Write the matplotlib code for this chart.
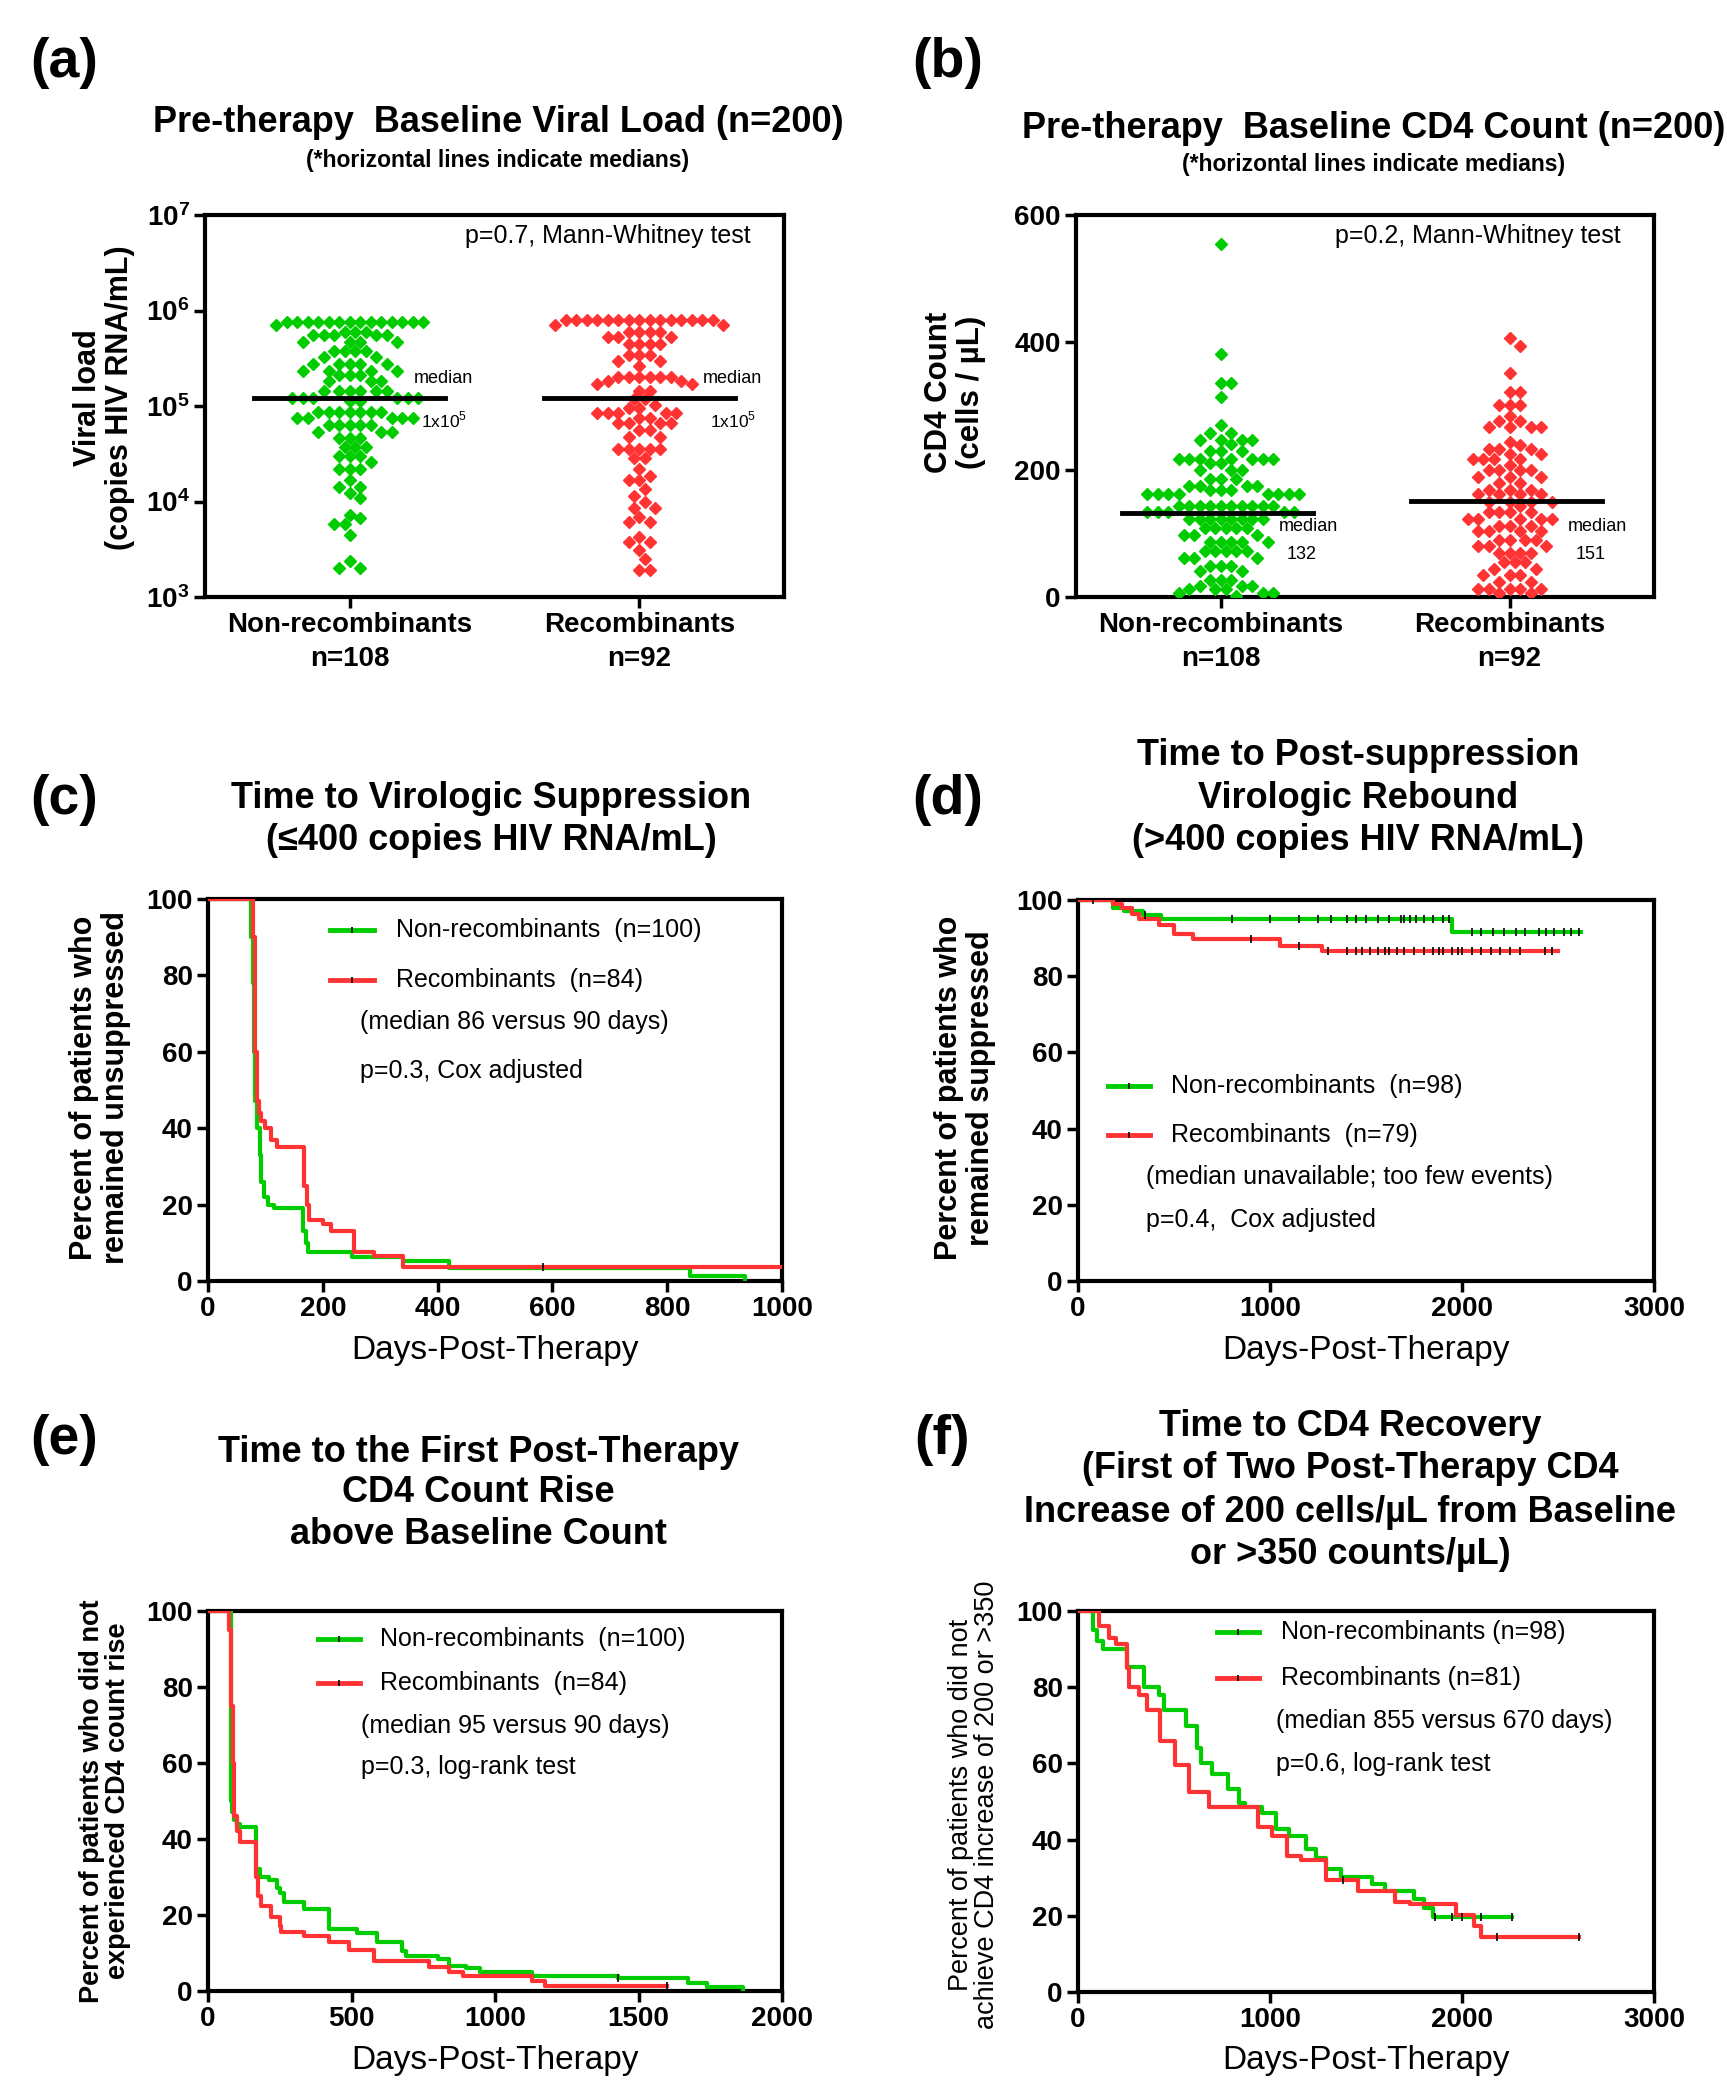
import numpy as np
import matplotlib
matplotlib.use('Agg')
import matplotlib.pyplot as plt

plt.rcParams['font.family'] = ['Liberation Sans', 'DejaVu Sans']
plt.rcParams['mathtext.fontset'] = 'custom'
plt.rcParams['mathtext.rm'] = 'Liberation Sans'
plt.rcParams['mathtext.bf'] = 'Liberation Sans:bold'

GREEN = '#00cc00'
RED = '#ff3333'

# ---------------- data ----------------
groups = ['Non-recombinants\nn=108', 'Recombinants\nn=92']

# (a) baseline viral load, log10 copies/mL (level, number of patients)
vl_nonrec_lev = [5.88, 5.85, 5.78, 5.74, 5.67, 5.58, 5.51, 5.44, 5.37, 5.32, 5.26, 5.16,
                 5.08, 5.05, 4.94, 4.87, 4.80, 4.73, 4.66, 4.57, 4.48, 4.41, 4.34, 4.22,
                 4.15, 4.09, 4.04, 3.86, 3.83, 3.76, 3.65, 3.38, 3.30]
vl_nonrec_cnt = [14, 1, 3, 5, 4, 4, 2, 5, 4, 3, 3, 6,
                 6, 2, 7, 5, 5, 3, 3, 3, 3, 1, 3, 1,
                 2, 1, 1, 1, 1, 2, 1, 1, 2]
vl_rec_lev = [5.90, 5.85, 5.78, 5.72, 5.65, 5.53, 5.47, 5.42, 5.30, 5.26, 5.23, 5.16,
              5.07, 5.01, 4.98, 4.93, 4.87, 4.82, 4.75, 4.68, 4.55, 4.46, 4.34, 4.27,
              4.22, 4.13, 4.06, 3.99, 3.93, 3.84, 3.79, 3.63, 3.58, 3.49, 3.40, 3.28]
vl_rec_cnt = [15, 2, 4, 3, 4, 3, 2, 1, 6, 2, 2, 2,
              2, 1, 2, 5, 2, 4, 2, 2, 5, 2, 1, 1,
              2, 1, 1, 1, 2, 1, 2, 1, 2, 1, 1, 2]
vl_medians = [1.2e5, 1.2e5]

# (b) baseline CD4 count, cells/uL (level, number of patients)
cd4_nonrec_lev = [554, 381, 336, 314, 270, 258, 247, 240, 230, 217, 210, 200, 186, 175, 168,
                  162, 143, 133, 122, 108, 97, 87, 73, 62, 48, 41, 27, 18, 13, 6, 2]
cd4_nonrec_cnt = [1, 1, 2, 1, 1, 2, 4, 1, 3, 7, 2, 3, 3, 4, 3,
                  8, 10, 5, 8, 5, 3, 5, 5, 3, 3, 2, 3, 3, 3, 3, 1]
cd4_rec_lev = [407, 394, 352, 322, 302, 284, 277, 267, 244, 239, 232, 224, 217, 207, 200, 189,
               179, 168, 161, 150, 143, 133, 122, 112, 104, 90, 80, 69, 55, 44, 34, 23, 13, 6]
cd4_rec_cnt = [1, 1, 1, 2, 3, 1, 2, 4, 1, 1, 3, 2, 4, 1, 4, 3,
               2, 3, 4, 4, 1, 4, 5, 3, 4, 4, 3, 4, 3, 2, 3, 2, 5, 2]
cd4_medians = [132, 151]

# (c) time to virologic suppression: step times (days) and % remaining
c_nonrec_t = [0, 75, 78, 80, 82, 86, 90, 93, 97, 105, 115, 165, 170, 175, 250, 340, 420, 840, 935]
c_nonrec_s = [100, 90, 78, 60, 47, 40, 33, 26, 22, 20, 19, 13, 10, 7.5, 6.3, 5.2, 3.5, 1.3, 0]
c_nonrec_end = 935
c_rec_t = [0, 78, 82, 85, 88, 92, 100, 110, 120, 168, 172, 176, 200, 215, 255, 290, 340]
c_rec_s = [100, 90, 60, 47, 44, 42, 40, 37, 35, 25, 20, 16, 15, 13, 7.7, 6.5, 3.7]
c_rec_end = 1000
c_nonrec_cens = []
c_rec_cens = [583]

# (d) time to virologic rebound
d_nonrec_t = [0, 180, 240, 340, 430, 1950]
d_nonrec_s = [100, 98, 97, 96, 95, 91.7]
d_nonrec_end = 2620
d_rec_t = [0, 180, 230, 280, 320, 420, 500, 600, 1050, 1270]
d_rec_s = [100, 99, 98, 96.2, 95, 93.5, 91, 89.8, 87.8, 86.7]
d_rec_end = 2500
d_nonrec_cens = [80, 350, 800, 1000, 1150, 1250, 1320, 1400, 1450, 1500, 1560, 1620, 1680,
                 1700, 1730, 1760, 1800, 1850, 1900, 1930, 2050, 2100, 2160, 2220, 2280,
                 2330, 2400, 2440, 2480, 2530, 2570, 2610]
d_rec_cens = [900, 1150, 1300, 1400, 1450, 1480, 1520, 1560, 1600, 1620, 1660, 1700, 1750,
              1800, 1850, 1880, 1900, 1950, 1980, 2000, 2050, 2100, 2150, 2200, 2250, 2300,
              2430, 2470]

# (e) time to first CD4 rise
e_nonrec_t = [0, 80, 85, 90, 100, 110, 168, 180, 212, 240, 251, 265, 335, 421, 520, 589, 676,
              690, 800, 840, 900, 947, 1130, 1430, 1671, 1739, 1865]
e_nonrec_s = [100, 50, 47, 45, 44, 43.2, 32, 30, 29.2, 27, 25.7, 23.4, 21.7, 16.2, 15.3, 13,
              10.4, 9.3, 8.4, 6.6, 6, 5.1, 3.9, 3.5, 2, 1, 0]
e_nonrec_end = 1865
e_rec_t = [0, 72, 80, 87, 90, 100, 110, 168, 175, 185, 220, 250, 255, 335, 420, 490, 580,
           770, 840, 890, 1130, 1175]
e_rec_s = [100, 95, 75, 60, 46, 42, 39.1, 30, 25, 22.3, 19.4, 17, 15.5, 14.5, 13, 10.7, 7.8,
           6.3, 4.9, 3.9, 2.6, 1.4]
e_rec_end = 1600
e_nonrec_cens = [1430]
e_rec_cens = [1600]

# (f) time to CD4 recovery
f_nonrec_t = [0, 78, 100, 130, 255, 345, 420, 450, 560, 620, 640, 700, 780, 840, 870, 960,
              1030, 1100, 1190, 1240, 1290, 1370, 1530, 1600, 1750, 1800, 1850]
f_nonrec_s = [100, 95, 92, 90, 85.2, 80, 78, 74, 69.7, 64, 60, 57.2, 53.2, 49.7, 48.5, 47,
              42.8, 41, 37.6, 35.3, 32.4, 30.1, 28.3, 26.4, 24.3, 22, 19.7]
f_nonrec_end = 2260
f_rec_t = [0, 108, 160, 200, 255, 265, 320, 360, 425, 505, 580, 680, 940, 1010, 1090, 1160,
           1290, 1460, 1650, 1730, 1970, 2060, 2100]
f_rec_s = [100, 96, 93, 91.3, 85, 80, 78, 74, 65.9, 59.5, 52.6, 48.5, 43.4, 41, 35.8, 34.7,
           29.5, 26.4, 23.7, 23.1, 20.2, 17.3, 14.5]
f_rec_end = 2610
f_nonrec_cens = [1860, 1950, 2000, 2100, 2260]
f_rec_cens = [1380, 2180, 2610]

# ---------------- layout helpers ----------------
W, H = 1727, 2082
fig = plt.figure(figsize=(W / 100, H / 100), dpi=100)


def box(x0, y0, x1, y1):
    return [x0 / W, 1 - y1 / H, (x1 - x0) / W, (y1 - y0) / H]


def ftext(x, y, s, **kw):
    kw.setdefault('ha', 'center')
    kw.setdefault('va', 'center')
    fig.text(x / W, 1 - y / H, s, **kw)


def style(ax):
    for sp in ax.spines.values():
        sp.set_linewidth(3)
    ax.tick_params(direction='out', length=8, width=2.5, top=False, right=False,
                   labelsize=20, pad=3)
    for lab in ax.get_xticklabels() + ax.get_yticklabels():
        lab.set_fontweight('bold')


def swarm(vals_px, d):
    # simple beeswarm: put each point as close to the centre as it fits
    off = np.zeros(len(vals_px))
    px, py = [], []
    for i in np.argsort(-vals_px, kind='stable'):
        y = vals_px[i]
        k = 0
        while True:
            cands = [0.0] if k == 0 else [k * d / 2, -k * d / 2]
            hit = None
            for c in cands:
                if len(px) == 0 or np.min((np.array(px) - c) ** 2 + (np.array(py) - y) ** 2) >= 0.9 * d * d:
                    hit = c
                    break
            if hit is not None:
                break
            k += 1
        off[i] = hit
        px.append(hit)
        py.append(y)
    return off


def dot_panel(ax, lev_cnt, ypix, xpix, logy):
    for gi, (lev, cnt, col) in enumerate(lev_cnt):
        yv = np.repeat(np.array(lev, float), cnt)
        v = 10 ** yv if logy else yv
        off = swarm(yv * ypix, 10.5) / xpix
        ax.plot(gi + off, v, 'D', color=col, ms=6, mec=col, ls='none', zorder=3)


def km(ax, t, s, end, col, cens):
    tt = list(t) + [end]
    ss = list(s) + [s[-1]]
    ax.step(tt, ss, where='post', color=col, lw=3, zorder=3)
    if cens:
        idx = np.searchsorted(np.array(t), np.array(cens), side='right') - 1
        ax.plot(cens, np.array(s)[idx], '|', color='k', ms=6, mew=1.2, zorder=4)


def km_legend(ax, x0, x1, xt, ys, labels, extra, xe, ye):
    for y, col, lab in zip(ys, [GREEN, RED], labels):
        ax.plot([x0, x1], [y, y], color=col, lw=3.5, transform=ax.transAxes, clip_on=False)
        ax.plot([(x0 + x1) / 2], [y], '|', color='k', ms=5, mew=1.2,
                transform=ax.transAxes, clip_on=False)
        ax.text(xt, y, lab, transform=ax.transAxes, va='center', ha='left', fontsize=18)
    for s, y in zip(extra, ye):
        ax.text(xe, y, s, transform=ax.transAxes, va='center', ha='left', fontsize=18)


# ---------------- (a) ----------------
ax = fig.add_axes(box(205, 215, 784, 597))
dot_panel(ax, [(vl_nonrec_lev, vl_nonrec_cnt, GREEN), (vl_rec_lev, vl_rec_cnt, RED)],
          95.5, 289.5, True)
ax.set_yscale('log')
ax.set_ylim(1e3, 1e7)
ax.set_xlim(-0.5, 1.5)
ax.set_yticks([1e3, 1e4, 1e5, 1e6, 1e7])
ax.set_yticklabels([r'$\mathbf{10^{%d}}$' % k for k in [3, 4, 5, 6, 7]])
ax.yaxis.set_minor_locator(matplotlib.ticker.NullLocator())
ax.set_xticks([0, 1])
ax.set_xticklabels(groups, linespacing=1.4)
for gi, m in enumerate(vl_medians):
    ax.plot([gi - 0.33, gi + 0.33], [m, m], color='k', lw=3.5, zorder=4)
    ax.text(gi + 0.22, m * 1.62, 'median', fontsize=13, ha='left', va='center')
    ax.text(gi + 0.245, m * 0.6, r'1x10$^5$', fontsize=12.5, ha='left', va='center')
ax.text(0.943, 0.945, 'p=0.7, Mann-Whitney test', transform=ax.transAxes,
        ha='right', va='center', fontsize=18)
style(ax)

# ---------------- (b) ----------------
ax = fig.add_axes(box(1076, 215, 1654, 597))
dot_panel(ax, [(cd4_nonrec_lev, cd4_nonrec_cnt, GREEN), (cd4_rec_lev, cd4_rec_cnt, RED)],
          382 / 600, 289.0, False)
ax.set_ylim(0, 600)
ax.set_xlim(-0.5, 1.5)
ax.set_yticks([0, 200, 400, 600])
ax.set_xticks([0, 1])
ax.set_xticklabels(groups, linespacing=1.4)
for gi, m in enumerate(cd4_medians):
    ax.plot([gi - 0.34, gi + 0.32], [m, m], color='k', lw=3.5, zorder=4)
    ax.text(gi + 0.2, 110, 'median', fontsize=13, ha='left', va='center')
    ax.text(gi + 0.28, 66, str(m), fontsize=13, ha='center', va='center')
ax.text(0.943, 0.945, 'p=0.2, Mann-Whitney test', transform=ax.transAxes,
        ha='right', va='center', fontsize=18)
style(ax)

# ---------------- (c) ----------------
ax = fig.add_axes(box(208, 899, 782, 1281))
km(ax, c_nonrec_t, c_nonrec_s, c_nonrec_end, GREEN, c_nonrec_cens)
km(ax, c_rec_t, c_rec_s, c_rec_end, RED, c_rec_cens)
ax.set_xlim(0, 1000)
ax.set_ylim(0, 100)
ax.set_xticks(range(0, 1001, 200))
ax.set_yticks(range(0, 101, 20))
km_legend(ax, 0.213, 0.29, 0.328, [0.919, 0.788],
          ['Non-recombinants  (n=100)', 'Recombinants  (n=84)'],
          ['(median 86 versus 90 days)', 'p=0.3, Cox adjusted'], 0.265, [0.677, 0.551])
style(ax)

# ---------------- (d) ----------------
ax = fig.add_axes(box(1078, 900, 1654, 1281))
km(ax, d_nonrec_t, d_nonrec_s, d_nonrec_end, GREEN, d_nonrec_cens)
km(ax, d_rec_t, d_rec_s, d_rec_end, RED, d_rec_cens)
ax.set_xlim(0, 3000)
ax.set_ylim(0, 100)
ax.set_xticks([0, 1000, 2000, 3000])
ax.set_yticks(range(0, 101, 20))
km_legend(ax, 0.052, 0.125, 0.161, [0.512, 0.383],
          ['Non-recombinants  (n=98)', 'Recombinants  (n=79)'],
          ['(median unavailable; too few events)', 'p=0.4,  Cox adjusted'], 0.118, [0.273, 0.160])
style(ax)

# ---------------- (e) ----------------
ax = fig.add_axes(box(208, 1611, 782, 1991))
km(ax, e_nonrec_t, e_nonrec_s, e_nonrec_end, GREEN, e_nonrec_cens)
km(ax, e_rec_t, e_rec_s, e_rec_end, RED, e_rec_cens)
ax.set_xlim(0, 2000)
ax.set_ylim(0, 100)
ax.set_xticks([0, 500, 1000, 1500, 2000])
ax.set_yticks(range(0, 101, 20))
km_legend(ax, 0.192, 0.265, 0.30, [0.926, 0.811],
          ['Non-recombinants  (n=100)', 'Recombinants  (n=84)'],
          ['(median 95 versus 90 days)', 'p=0.3, log-rank test'], 0.267, [0.697, 0.589])
style(ax)

# ---------------- (f) ----------------
ax = fig.add_axes(box(1078, 1611, 1654, 1992))
km(ax, f_nonrec_t, f_nonrec_s, f_nonrec_end, GREEN, f_nonrec_cens)
km(ax, f_rec_t, f_rec_s, f_rec_end, RED, f_rec_cens)
ax.set_xlim(0, 3000)
ax.set_ylim(0, 100)
ax.set_xticks([0, 1000, 2000, 3000])
ax.set_yticks(range(0, 101, 20))
km_legend(ax, 0.241, 0.314, 0.352, [0.945, 0.824],
          ['Non-recombinants (n=98)', 'Recombinants (n=81)'],
          ['(median 855 versus 670 days)', 'p=0.6, log-rank test'], 0.343, [0.711, 0.598])
style(ax)

# ---------------- text outside the axes ----------------
for lab, x, y in [('(a)', 64, 63), ('(b)', 948, 63), ('(c)', 64, 800),
                  ('(d)', 948, 800), ('(e)', 64, 1440), ('(f)', 942, 1440)]:
    ftext(x, y, lab, fontsize=40, fontweight='bold')

tkw = dict(fontsize=26, fontweight='bold')
ftext(498, 123, 'Pre-therapy  Baseline Viral Load (n=200)', **tkw)
ftext(498, 160, '(*horizontal lines indicate medians)', fontsize=16.5, fontweight='bold')
ftext(1374, 128, 'Pre-therapy  Baseline CD4 Count (n=200)', **tkw)
ftext(1374, 165, '(*horizontal lines indicate medians)', fontsize=16.5, fontweight='bold')
ftext(491, 798, 'Time to Virologic Suppression', **tkw)
ftext(491, 840, '(≤400 copies HIV RNA/mL)', **tkw)
ftext(1358, 756, 'Time to Post-suppression', **tkw)
ftext(1358, 798, 'Virologic Rebound', **tkw)
ftext(1358, 840, '(>400 copies HIV RNA/mL)', **tkw)
ftext(478, 1452, 'Time to the First Post-Therapy', **tkw)
ftext(478, 1493, 'CD4 Count Rise', **tkw)
ftext(478, 1534, 'above Baseline Count', **tkw)
ftext(1350, 1427, 'Time to CD4 Recovery', **tkw)
ftext(1350, 1469, '(First of Two Post-Therapy CD4', **tkw)
ftext(1350, 1512, 'Increase of 200 cells/µL from Baseline', **tkw)
ftext(1350, 1555, 'or >350 counts/µL)', **tkw)

ftext(104, 398, 'Viral load\n(copies HIV RNA/mL)', rotation=90, fontsize=22,
      fontweight='bold', linespacing=1.05)
ftext(955, 392, 'CD4 Count\n(cells / µL)', rotation=90, fontsize=22.5,
      fontweight='bold', linespacing=1.05)
ftext(100, 1088, 'Percent of patients who\nremained unsuppressed', rotation=90, fontsize=22,
      fontweight='bold', linespacing=1.05)
ftext(965, 1088, 'Percent of patients who\nremained suppressed', rotation=90, fontsize=22,
      fontweight='bold', linespacing=1.05)
ftext(105, 1801, 'Percent of patients who did not\nexperienced CD4 count rise', rotation=90,
      fontsize=19.5, fontweight='bold', linespacing=1.0)
ftext(974, 1805, 'Percent of patients who did not\nachieve CD4 increase of 200 or >350',
      rotation=90, fontsize=19.5, linespacing=1.05)

for x, y in [(495, 1351), (1366, 1351), (495, 2061), (1366, 2061)]:
    ftext(x, y, 'Days-Post-Therapy', fontsize=24)

fig.savefig('out.png', dpi=100, facecolor='white')
